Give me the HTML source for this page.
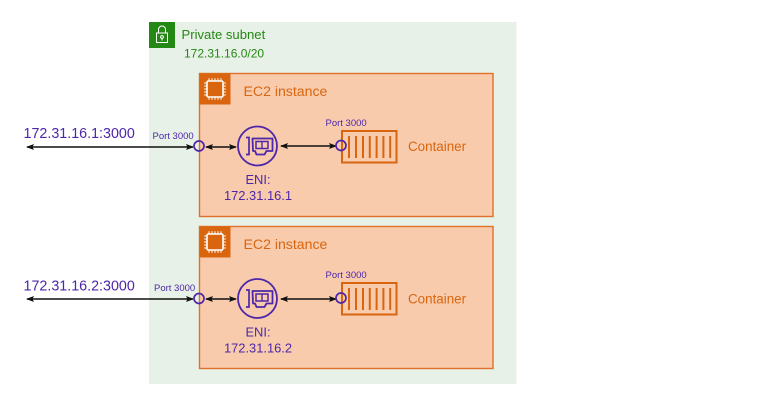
<!DOCTYPE html>
<html><head><meta charset="utf-8"><style>
html,body{margin:0;padding:0;background:#fff}
svg{display:block;filter:blur(.35px)}
text{font-family:"Liberation Sans",sans-serif}
</style></head><body>
<svg width="780" height="407" viewBox="0 0 780 407" xmlns="http://www.w3.org/2000/svg">
<defs>
<marker id="a" viewBox="0 0 8 6" refX="7" refY="3" markerWidth="8" markerHeight="6" markerUnits="userSpaceOnUse" orient="auto-start-reverse"><path d="M0 0L8 3L0 6L1.500 3Z" fill="#111"/></marker>
<g id="chip" fill="none" stroke="#fff">
<rect x="-8" y="-8" width="16" height="16" rx="1.500" fill="#d9660f" stroke-width="1.600"/>
<path stroke-width="1" d="M-6 -8v-2.800M-3 -8v-2.800M0 -8v-2.800M3 -8v-2.800M6 -8v-2.800M-6 8v2.800M-3 8v2.800M0 8v2.800M3 8v2.800M6 8v2.800M-8 -6h-2.800M-8 -3h-2.800M-8 0h-2.800M-8 3h-2.800M-8 6h-2.800M8 -6h2.800M8 -3h2.800M8 0h2.800M8 3h2.800M8 6h2.800"/>
</g>
<g id="eni" fill="none" stroke="#4d27aa">
<circle r="19.500" stroke-width="1.800"/>
<path stroke-width="1.700" d="M-11.500 -8.500h3v17h-3"/>
<path stroke-width="1.800" d="M-5 -7.500H15V5H9L7 8.500H-1L-2.500 5H-4.500Z" stroke-linejoin="round"/>
<rect x="-1.500" y="-4.500" width="12" height="7" stroke-width="1.500"/>
<path stroke-width="1.400" d="M4.500 -4.500v7"/>
</g>
<g id="cont" fill="none" stroke="#d9660f">
<rect x="1" y="1" width="54.500" height="31.500" stroke-width="2"/>
<path stroke-width="2" d="M8 6v22M15 6v22M22 6v22M28.800 6v22M35.600 6v22M42.400 6v22M49.200 6v22"/>
</g>
</defs>

<rect x="149" y="22" width="367.500" height="362" fill="#e8f1e7"/>
<rect x="149" y="22" width="26" height="26" fill="#248814"/>
<g fill="none" stroke="#fff" stroke-width="1">
<rect x="156.500" y="33" width="11" height="9.500"/>
<path d="M158.500 33v-3.500a3.500 3.500 0 0 1 7 0V33"/>
<circle cx="162" cy="37" r="1.400"/>
<path d="M162 38.500v2"/>
</g>
<text x="181.500" y="39" font-size="13.100" fill="#248814">Private subnet</text>
<text x="184" y="57.500" font-size="12" fill="#248814">172.31.16.0/20</text>

<rect x="199.500" y="73.500" width="293.500" height="143" fill="#f8cbad" stroke="#e0702a" stroke-width="1.400"/>
<rect x="199.500" y="73.500" width="31" height="31" fill="#d9660f"/>
<use href="#chip" x="215" y="89"/>
<text x="243.500" y="96" font-size="14.100" fill="#d9660f">EC2 instance</text>

<rect x="199.500" y="226.500" width="293.500" height="142" fill="#f8cbad" stroke="#e0702a" stroke-width="1.400"/>
<rect x="199.500" y="226.500" width="31" height="31" fill="#d9660f"/>
<use href="#chip" x="215" y="242"/>
<text x="243.500" y="249" font-size="14.100" fill="#d9660f">EC2 instance</text>

<text x="23.500" y="138" font-size="14.300" fill="#4d27aa">172.31.16.1:3000</text>
<text x="23.500" y="290.500" font-size="14.300" fill="#4d27aa">172.31.16.2:3000</text>

<g stroke="#111" stroke-width="1.600" fill="none">
<path d="M27 147H193" marker-start="url(#a)" marker-end="url(#a)"/>
<path d="M206 147H236" marker-start="url(#a)" marker-end="url(#a)"/>
<path d="M281 146H336" marker-start="url(#a)" marker-end="url(#a)"/>
<path d="M27 299H193" marker-start="url(#a)" marker-end="url(#a)"/>
<path d="M206 299H236" marker-start="url(#a)" marker-end="url(#a)"/>
<path d="M281 299H336" marker-start="url(#a)" marker-end="url(#a)"/>
</g>

<use href="#cont" x="341" y="130"/>
<use href="#cont" x="341" y="282"/>
<use href="#eni" x="257.500" y="146"/>
<use href="#eni" x="257.500" y="298.500"/>

<g fill="none" stroke="#4d27aa" stroke-width="1.700">
<circle cx="199" cy="146" r="5"/>
<circle cx="199" cy="298.500" r="5"/>
<circle cx="341" cy="145.500" r="5"/>
<circle cx="341" cy="298" r="5"/>
</g>

<g font-size="9.500" fill="#4d27aa">
<text x="152.500" y="139">Port 3000</text>
<text x="154" y="291">Port 3000</text>
<text x="325.500" y="126">Port 3000</text>
<text x="325.500" y="278">Port 3000</text>
</g>

<g font-size="12.900" fill="#4d27aa" text-anchor="middle">
<text x="258" y="184">ENI:</text>
<text x="258" y="200">172.31.16.1</text>
<text x="258" y="336.500">ENI:</text>
<text x="258" y="352.500">172.31.16.2</text>
</g>
<g font-size="13.400" fill="#d9660f">
<text x="408" y="151">Container</text>
<text x="408" y="303.500">Container</text>
</g>
</svg>
</body></html>
